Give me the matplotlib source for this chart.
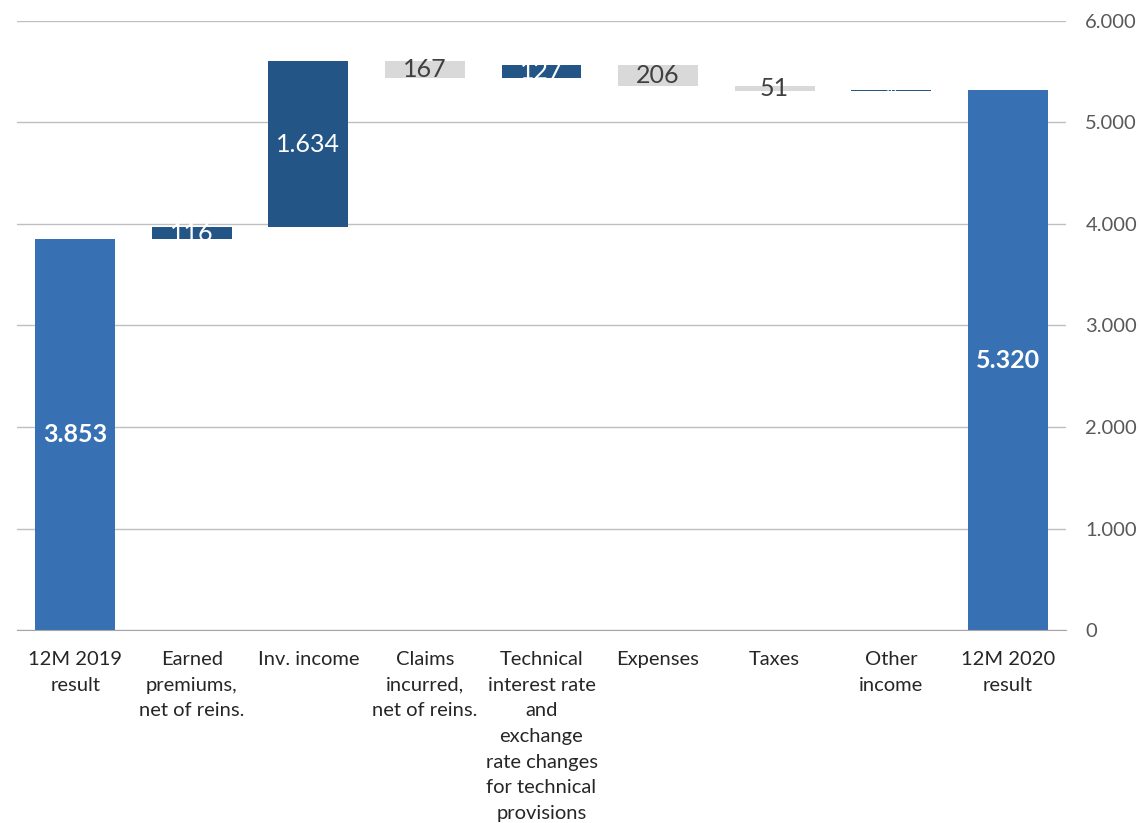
import matplotlib.pyplot as plt
import numpy as np

plt.rcParams['font.family'] = ['Lato', 'DejaVu Sans']

categories = ['12M 2019\nresult', 'Earned\npremiums,\nnet of reins.', 'Inv. income',
              'Claims\nincurred,\nnet of reins.',
              'Technical\ninterest rate\nand\nexchange\nrate changes\nfor technical\nprovisions',
              'Expenses', 'Taxes', 'Other\nincome', '12M 2020\nresult']
start_value = 3853
deltas = [116, 1634, -167, 127, -206, -51, 14]
end_value = 5320

total_col = '#3771B4'
up_col = '#245587'
down_col = '#D9D9D9'


def fmt(v):
    return '{:,}'.format(abs(v)).replace(',', '.')


fig = plt.figure(figsize=(11.4, 8.23), dpi=100)
ax = fig.add_axes([0.015, 0.2345, 0.92, 0.74])

x = np.arange(len(categories))
w = 0.686

# opening and closing totals
ax.bar(x[0], start_value, w, color=total_col, zorder=3)
ax.bar(x[-1], end_value, w, color=total_col, zorder=3)
ax.text(x[0], start_value / 2, fmt(start_value), ha='center', va='center',
        color='white', fontsize=18, fontweight='bold', zorder=4)
ax.text(x[-1], end_value / 2, fmt(end_value), ha='center', va='center',
        color='white', fontsize=18, fontweight='bold', zorder=4)

# floating steps
level = start_value
for i, d in enumerate(deltas, start=1):
    bottom = level if d > 0 else level + d
    col = up_col if d > 0 else down_col
    ax.bar(x[i], abs(d), w, bottom=bottom, color=col, zorder=3)
    txt_col = 'white' if d > 0 else '#404040'
    fs = 18 if abs(d) > 20 else 9
    ax.text(x[i], bottom + abs(d) / 2, fmt(d), ha='center', va='center',
            color=txt_col, fontsize=fs, zorder=4, clip_on=False)
    level += d

ax.set_xlim(-0.5, len(categories) - 0.5)
ax.set_ylim(0, 6000)
ax.set_yticks(np.arange(0, 6001, 1000))
ax.set_yticklabels(['0'] + [fmt(v) for v in range(1000, 6001, 1000)])
ax.yaxis.tick_right()
ax.grid(axis='y', color='#BFBFBF', linewidth=1, zorder=0)
ax.tick_params(axis='y', length=0, pad=14, labelsize=14.5, labelcolor='#595959')
ax.tick_params(axis='x', length=0, pad=15, labelsize=14.5, labelcolor='#262626')
ax.set_xticks(x)
ax.set_xticklabels(categories, linespacing=1.62, va='top')
for s in ['top', 'left', 'right']:
    ax.spines[s].set_visible(False)
ax.spines['bottom'].set_color('#A6A6A6')
ax.spines['bottom'].set_zorder(5)

fig.savefig('out.png', dpi=100)
